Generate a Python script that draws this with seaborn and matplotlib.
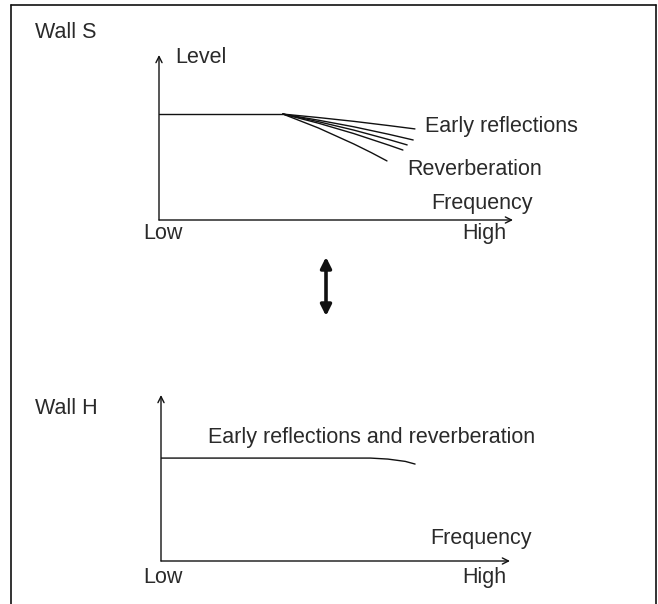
import matplotlib
matplotlib.use("Agg")
import matplotlib.pyplot as plt
from matplotlib.lines import Line2D
from matplotlib.patches import FancyArrowPatch
import pandas as pd
import seaborn as sns

# ---- Wall S: level vs frequency (flat, then a fan of roll-offs) ----
wall_s_flat_freq = [0.0, 3.5]
wall_s_flat_level = [6.42, 6.42]

wall_s_fan_freq = [
    [3.5, 4.5, 5.5, 6.5, 7.23],
    [3.5, 4.5, 5.5, 6.5, 7.18],
    [3.5, 4.5, 5.5, 6.5, 7.01],
    [3.5, 4.5, 5.5, 6.5, 6.89],
    [3.5, 4.5, 5.5, 6.0, 6.44],
]
wall_s_fan_level = [
    [6.42, 6.21, 5.98, 5.72, 5.52],
    [6.42, 6.05, 5.65, 5.19, 4.85],
    [6.42, 5.96, 5.45, 4.87, 4.55],
    [6.42, 5.87, 5.24, 4.53, 4.24],
    [6.42, 5.58, 4.61, 4.08, 3.58],
]

# ---- Wall H: level vs frequency (flat with a slight high-end droop) ----
wall_h_freq = [0.0, 6.0, 6.5, 7.0, 7.28]
wall_h_level = [6.20, 6.20, 6.14, 6.00, 5.84]

panel_titles = ["Wall S", "Wall H"]
axis_low, axis_high = "Low", "High"
freq_label = "Frequency"
level_label = "Level"
top_labels = ["Early reflections", "Reverberation"]
bottom_label = "Early reflections and reverberation"

W, H = 658, 604
sns.set_theme(style="white")
plt.rcParams["font.family"] = ["Liberation Sans", "DejaVu Sans"]

fig = plt.figure(figsize=(W / 100, H / 100), dpi=100)
fig.patch.set_facecolor("white")

ink = "#111111"
text_ink = "#2a2a2a"
fs = 15.5


def fx(px):
    return px / W


def fy(py):
    return 1 - py / H


# outer frame (top, left, right)
for xs, ys in [([11, 656], [5, 5]), ([11, 11], [5, 604]), ([656, 656], [5, 604])]:
    fig.add_artist(Line2D([fx(x) for x in xs], [fy(y) for y in ys],
                          transform=fig.transFigure, color=ink, lw=1.2))


def setup_axes(rect):
    ax = fig.add_axes(rect)
    ax.set_xlim(0, 10)
    ax.set_ylim(0, 10)
    ax.axis("off")
    arrow = dict(arrowstyle="->", lw=1.0, color=ink, shrinkA=0, shrinkB=0,
                 mutation_scale=11)
    ax.annotate("", xy=(10, 0), xytext=(0, 0), arrowprops=arrow,
                annotation_clip=False)
    ax.annotate("", xy=(0, 10), xytext=(0, 0), arrowprops=arrow,
                annotation_clip=False)
    return ax


def label(ax, x, y, s):
    ax.text(x, y, s, fontsize=fs, va="center", ha="left", color=text_ink)


# ---------- top panel ----------
ax1 = setup_axes([fx(159), fy(220), (513 - 159) / W, (220 - 55) / H])
rows = [dict(curve="flat", frequency=f, level=l)
        for f, l in zip(wall_s_flat_freq, wall_s_flat_level)]
for i, (fr, lv) in enumerate(zip(wall_s_fan_freq, wall_s_fan_level)):
    rows += [dict(curve=f"fan{i}", frequency=f, level=l) for f, l in zip(fr, lv)]
df_s = pd.DataFrame(rows)
sns.lineplot(data=df_s, x="frequency", y="level", units="curve",
             estimator=None, sort=False, color=ink, lw=1.0, ax=ax1,
             legend=False)
ax1.axis("off")

label(ax1, 0.45, 9.82, level_label)
label(ax1, 7.51, 5.64, top_labels[0])
label(ax1, 7.01, 3.09, top_labels[1])
label(ax1, 7.68, 1.03, freq_label)
label(ax1, -0.45, -0.79, axis_low)
label(ax1, 8.56, -0.79, axis_high)

# ---------- bottom panel ----------
ax2 = setup_axes([fx(161), fy(561), (510 - 161) / W, (561 - 395) / H])
df_h = pd.DataFrame(dict(frequency=wall_h_freq, level=wall_h_level))
sns.lineplot(data=df_h, x="frequency", y="level", estimator=None, sort=False,
             color=ink, lw=1.0, ax=ax2, legend=False)
ax2.axis("off")

label(ax2, 1.35, 7.41, bottom_label)
label(ax2, 7.71, 1.33, freq_label)
label(ax2, -0.52, -1.02, axis_low)
label(ax2, 8.62, -1.02, axis_high)

# panel titles
fig.text(fx(35), fy(32), panel_titles[0], fontsize=fs, va="center", ha="left", color=text_ink)
fig.text(fx(35), fy(408), panel_titles[1], fontsize=fs, va="center", ha="left", color=text_ink)

# double-headed arrow between the panels
fig.add_artist(FancyArrowPatch(
    (fx(326), fy(316)), (fx(326), fy(257)), transform=fig.transFigure,
    arrowstyle="<|-|>", mutation_scale=16, lw=2.6, color=ink,
    shrinkA=0, shrinkB=0))

fig.savefig("out.png", dpi=100, facecolor="white")
